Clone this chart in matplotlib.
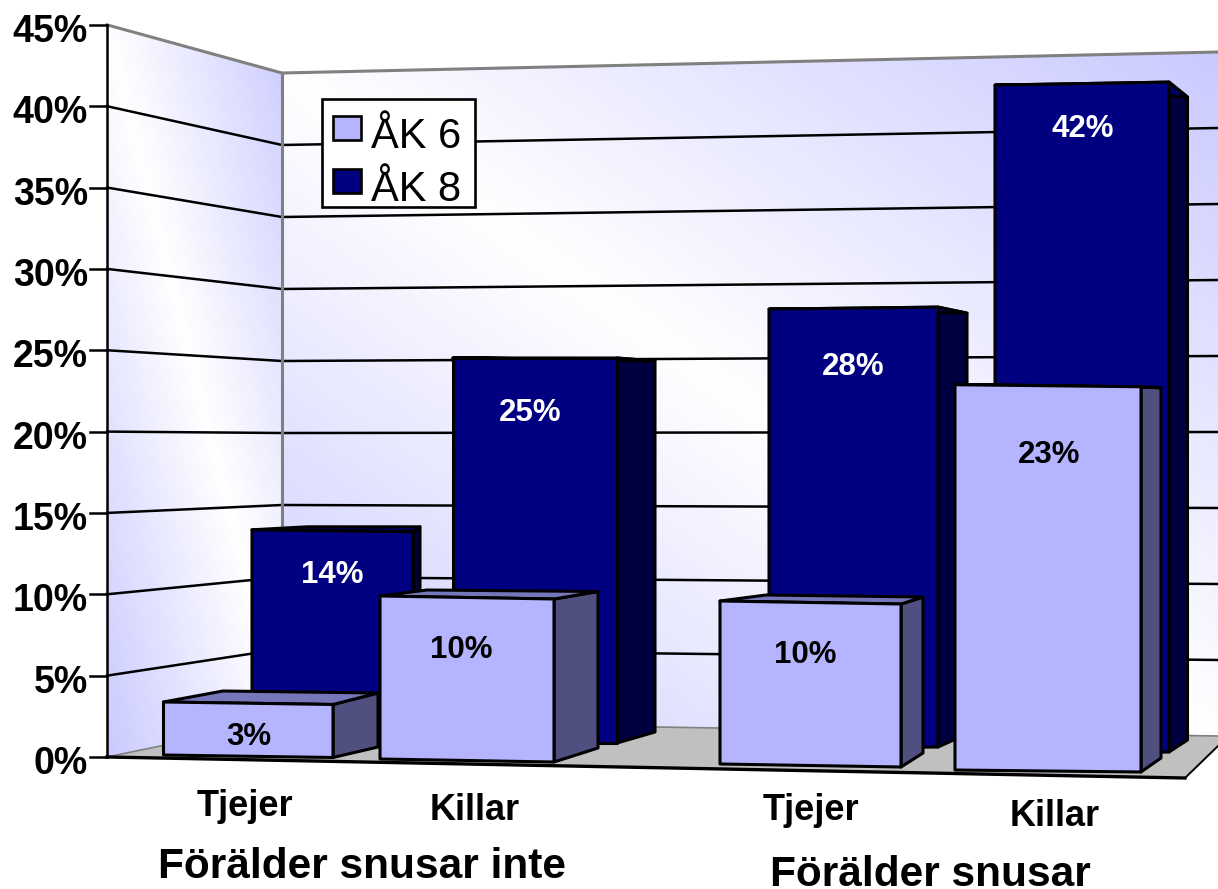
import numpy as np
from matplotlib import pyplot as plt
from matplotlib.patches import Polygon, Rectangle

plt.rcParams['font.family'] = ['Liberation Sans', 'DejaVu Sans']

# values
kategorier = ['Tjejer', 'Killar', 'Tjejer', 'Killar']
grupper = ['Förälder snusar inte', 'Förälder snusar']
serier = ['ÅK 6', 'ÅK 8']
ak6 = [3, 10, 10, 23]
ak8 = [14, 25, 28, 42]
procent = [0, 5, 10, 15, 20, 25, 30, 35, 40, 45]

# hand placed bar shapes, in pixels of the picture
# left, right, base left, base right, px per %, side dx, side dy top, side dy bottom, top dx, top dy
layout6 = [(163.5, 333, 755, 757.5, 17.67, 45, -11.5, -10.5, 59.5, -11),
           (380, 554, 759, 762, 16.3, 44, -7.5, -14, 47, -6),
           (720, 901, 764, 767, 16.3, 22, -7, -14, 46, -6),
           (955, 1141, 770, 772, 16.75, 20, 1, -14, 45, 0)]
layout8 = [(252, 413, 737, 739, 14.8, 7, -5, -12, 55, -3),
           (453, 617, 743, 743, 15.4, 38, 3, -11, 30, 0),
           (769, 938, 749, 747, 15.71, 29, 6, -13, 20, 0),
           (995, 1169, 755, 752, 15.95, 18.5, 15, -12, 15, 0)]
etikett6 = [(249, 737), (461, 650), (805, 655), (1049, 455)]
etikett8 = [(332, 575), (530, 413), (853, 367), (1083, 129)]
kategori_pos = [(245, 807), (475, 811), (811, 811), (1055, 816)]
grupp_pos = [(362, 867), (930, 875)]

W, H = 1218, 889
ljus = ('#b4b4ff', '#7676bb', '#4f4f80')
mork = ('#000080', '#000060', '#000040')


# wall y positions for a percent value
def y_fram(v):
    return 757 - 16.27 * v


def y_hörn(v):
    return 721 - 14.4 * v


def y_höger(v):
    return 736 - 15.2 * v


def vagg_gradient(ax, pts, p0, p1, hörn):
    # white along the line p0-p1, lavender out towards the corners
    xs, ys = np.meshgrid(np.arange(W), np.arange(H))
    nx, ny = p1[1] - p0[1], p0[0] - p1[0]
    d = np.abs((xs - p0[0]) * nx + (ys - p0[1]) * ny)
    dmax = max(abs((c[0] - p0[0]) * nx + (c[1] - p0[1]) * ny) for c in hörn)
    t = np.clip(d / dmax, 0, 1)[..., None]
    vit = np.array([1.0, 1.0, 1.0])
    lav = np.array([0.79, 0.79, 1.0])
    img = ax.imshow(vit + (lav - vit) * t, extent=(0, W, H, 0), zorder=1, interpolation='bilinear')
    img.set_clip_path(Polygon(pts, closed=True, transform=ax.transData))


def rita_stapel(ax, v, lay, farger, z):
    x0, x1, b0, b1, s, dx, dy_t, dy_b, tdx, tdy = lay
    h = v * s
    tl = (x0, b0 - h)
    tr = (x1, b1 - h)
    kw = dict(closed=True, ec='black', lw=2.2, joinstyle='round', zorder=z)
    sida = [tr, (x1 + dx, tr[1] + dy_t), (x1 + dx, b1 + dy_b), (x1, b1)]
    topp = [tl, tr, (x1 + dx, tr[1] + dy_t), (x0 + tdx, tl[1] + tdy)]
    ax.add_patch(Polygon(sida, fc=farger[2], **kw))
    ax.add_patch(Polygon(topp, fc=farger[1], **kw))
    ax.add_patch(Polygon([tl, tr, (x1, b1), (x0, b0)], fc=farger[0], **kw))


fig = plt.figure(figsize=(W / 100, H / 100), dpi=100)
ax = fig.add_axes([0, 0, 1, 1])

# walls and floor
vagg_gradient(ax, [(107, y_fram(45)), (282, y_hörn(45)), (282, y_hörn(0)), (107, y_fram(0))],
              (107, y_fram(45)), (282, y_hörn(0)), [(282, y_hörn(45)), (107, y_fram(0))])
vagg_gradient(ax, [(282, y_hörn(45)), (W, y_höger(45)), (W, y_höger(0)), (282, y_hörn(0))],
              (282, y_hörn(45)), (W, y_höger(0)), [(W, y_höger(45)), (282, y_hörn(0))])
ax.add_patch(Polygon([(107, 757), (1185, 778), (W, 746), (W, y_höger(0)), (282, y_hörn(0))],
                     closed=True, fc='#c0c0c0', ec='none', zorder=2))
ax.plot([107, 282, W], [y_fram(0), y_hörn(0), y_höger(0)], color='#808080', lw=1.2, zorder=2)
ax.plot([1185, W], [778, 746], color='black', lw=1.4, zorder=2)

# gridlines
for v in procent[1:-1]:
    ax.plot([107, 282, W], [y_fram(v), y_hörn(v), y_höger(v)], color='black', lw=1.8, zorder=3)
ax.plot([107, 282, W], [y_fram(45), y_hörn(45), y_höger(45)], color='#808080', lw=2.2, zorder=3)
ax.plot([282, 282], [y_hörn(45), y_hörn(0)], color='#808080', lw=2.2, zorder=3)

# axis with ticks
ax.plot([107, 107], [y_fram(45), y_fram(0)], color='black', lw=1.8, zorder=4)
ax.plot([107, 1185], [757, 778], color='black', lw=2.4, zorder=4)
for v in procent:
    ax.plot([90, 107], [y_fram(v), y_fram(v)], color='black', lw=1.8, zorder=4)
    ax.text(88, y_fram(v) + 7, str(v) + '%', ha='right', va='center', fontsize=27,
            fontweight='bold', zorder=4)

# bars, back row first
for i in range(len(ak8)):
    rita_stapel(ax, ak8[i], layout8[i], mork, 5 + i * 0.01)
for i in range(len(ak6)):
    rita_stapel(ax, ak6[i], layout6[i], ljus, 6 + i * 0.01)

for i in range(len(ak8)):
    ax.text(etikett8[i][0], etikett8[i][1], str(ak8[i]) + '%', color='white', ha='center',
            va='center', fontsize=22.5, fontweight='bold', zorder=7)
    ax.text(etikett6[i][0], etikett6[i][1], str(ak6[i]) + '%', color='black', ha='center',
            va='center', fontsize=22.5, fontweight='bold', zorder=7)
    ax.text(kategori_pos[i][0], kategori_pos[i][1], kategorier[i], ha='center', va='center',
            fontsize=26, fontweight='bold', zorder=7)

for i in range(len(grupper)):
    ax.text(grupp_pos[i][0], grupp_pos[i][1], grupper[i], ha='center', va='center',
            fontsize=30.5, fontweight='bold', zorder=7)

# legend
ax.add_patch(Rectangle((321.5, 99), 153.5, 108, fc='white', ec='black', lw=1.9, zorder=8))
ax.add_patch(Rectangle((333, 116), 28, 24, fc=ljus[0], ec='black', lw=1.9, zorder=9))
ax.add_patch(Rectangle((333, 169), 28, 24, fc=mork[0], ec='black', lw=1.9, zorder=9))
ax.text(371, 148, serier[0], ha='left', va='baseline', fontsize=30, zorder=9)
ax.text(371, 201, serier[1], ha='left', va='baseline', fontsize=30, zorder=9)

ax.set_xlim(0, W)
ax.set_ylim(H, 0)
ax.set_aspect('auto')
ax.axis('off')
fig.savefig('out.png', dpi=100)
